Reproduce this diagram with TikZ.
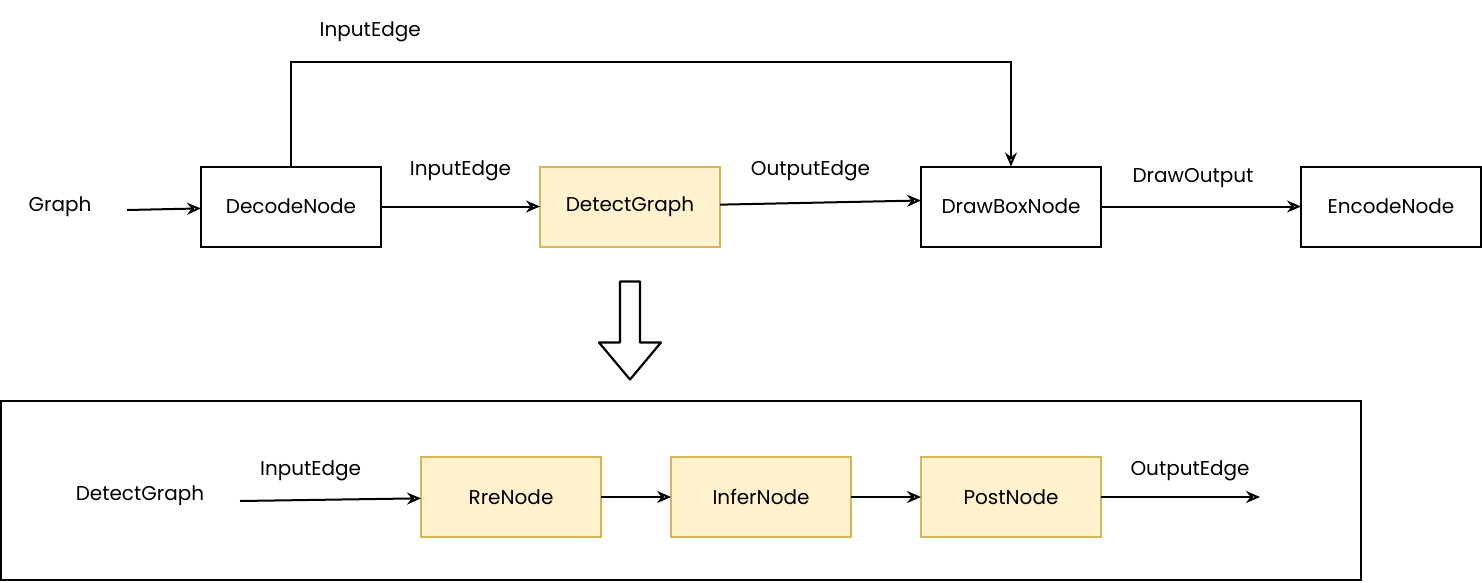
\documentclass[tikz,border=0pt]{standalone}
\usepackage{fontspec}
\setmainfont{Poppins}
\usetikzlibrary{arrows.meta, positioning, calc}
\definecolor{yellowfill}{HTML}{FFF2CC}
\definecolor{yellowline}{HTML}{D6B656}
\tikzset{
    block/.style={
        rectangle,
        draw=black,
        line width=2pt,
        outer sep=0pt,
        fill=white,
        text centered,
        minimum width=180pt,
        minimum height=80pt,
        font=\fontsize{20}{23}\selectfont
    },
    detblock/.style={
        block,
        draw=yellowline,
        fill=yellowfill
    },
    connection/.style={
        draw=black,
        line width=2pt,
        -{Stealth[open, length=14pt, width=12pt]}
    },
    edgelabel/.style={
        font=\fontsize{20}{23}\selectfont
    },
    bigarrow/.style={
        draw=black,
        line width=2.2pt,
        fill=white,
        line join=round
    }
}
\begin{document}
\begin{tikzpicture}[x=1pt, y=-1pt, node distance=70pt]
\useasboundingbox (0,0) rectangle (1482,582);

% Top row
\node[edgelabel] (graph) at (60,207) {Graph};
\coordinate (graphout) at (127,210);
\node[block] (decode) at (291,206.5) {DecodeNode};
\node[detblock, right=159pt of decode] (detect) {DetectGraph};
\node[block, right=201pt of detect] (drawbox) {DrawBoxNode};
\node[block, right=200pt of drawbox] (encode) {EncodeNode};

% Connections - top row
\draw[connection] (graphout) -- (decode);
\draw[connection] (decode) -- node[edgelabel, midway, above=21pt] {InputEdge} (detect);
\draw[connection] (detect) -- node[edgelabel, pos=0.45, above=18pt] {OutputEdge} ($(drawbox.west)+(0,-6)$);
\draw[connection] (drawbox) -- node[edgelabel, pos=0.46, above=14pt] {DrawOutput} (encode);
\draw[connection] (decode.north) -- ++(0,-105) -| node[edgelabel, pos=0.055, above=15pt] {InputEdge} (drawbox.north);

% Expansion arrow
\draw[bigarrow] ($(detect.south)+(-10,35)$) -- ++(20,0) -- ++(0,61) -- ++(21,0)
    -- ($(detect.south)+(0,133)$) -- ++(-31,-37) -- ++(21,0) -- cycle;

% DetectGraph detail
\node[draw, line width=2pt, minimum width=1360pt, minimum height=179pt, inner sep=0pt] (frame) at (681,490.5) {};
\node[edgelabel] (detgraph) at (140,496) {DetectGraph};
\coordinate (detgraphout) at (240,501);
\coordinate (postout) at (1260,497);
\node[detblock] (rre) at (511,497) {RreNode};
\node[detblock, right=of rre] (infer) {InferNode};
\node[detblock, right=of infer] (post) {PostNode};

% Connections - detail
\draw[connection] (detgraphout) -- node[edgelabel, pos=0.39, above=15pt] {InputEdge} (rre);
\draw[connection] (rre) -- (infer);
\draw[connection] (infer) -- (post);
\draw[connection] (post) -- node[edgelabel, pos=0.56, above=12pt] {OutputEdge} (postout);

\end{tikzpicture}
\end{document}
